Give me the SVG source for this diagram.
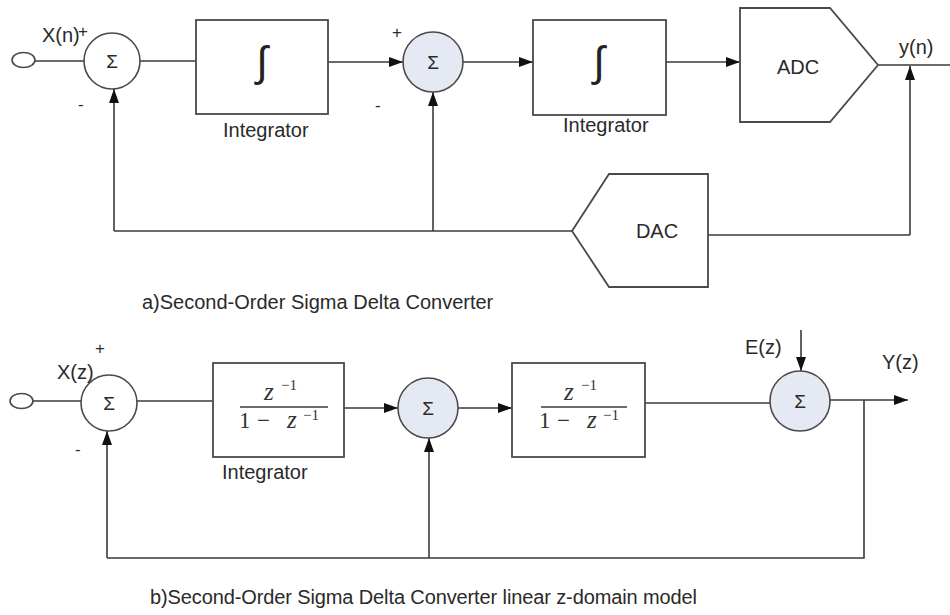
<svg xmlns="http://www.w3.org/2000/svg" width="950" height="615" viewBox="0 0 950 615">
  <style>
    .wire { fill: none; stroke: #3a3a3a; stroke-width: 1.6; }
    .arrow { fill: none; stroke: #3a3a3a; stroke-width: 1.6; marker-end: url(#head); }
    .box { fill: #ffffff; stroke: #4a4a4a; stroke-width: 1.8; }
    .sum { fill: #ffffff; stroke: #4a4a4a; stroke-width: 1.6; }
    .sumb { fill: #e4e9f4; stroke: #4a4a4a; stroke-width: 1.6; }
    .lbl { font-family: "Liberation Sans", Arial, sans-serif; font-size: 20px; fill: #2a2a2a; }
    .sig { font-family: "Liberation Sans", Arial, sans-serif; font-size: 19px; fill: #2a2a2a; text-anchor: middle; }
    .sgn { font-family: "Liberation Sans", Arial, sans-serif; font-size: 17px; fill: #2a2a2a; }
    .int { font-family: "Liberation Sans", Arial, sans-serif; font-size: 42px; fill: #222; text-anchor: middle; }
    .mz { font-family: "Liberation Serif", "Times New Roman", serif; font-style: italic; font-size: 25px; fill: #333; }
    .mn { font-family: "Liberation Serif", "Times New Roman", serif; font-size: 23px; fill: #333; }
    .ms { font-family: "Liberation Serif", "Times New Roman", serif; font-size: 15px; fill: #333; }
  </style>
  <defs>
    <marker id="head" markerUnits="userSpaceOnUse" markerWidth="15" markerHeight="11" refX="14" refY="5" orient="auto">
      <path d="M0,0 L14,5 L0,10 z" fill="#111"/>
    </marker>
  </defs>
  <rect width="950" height="615" fill="#ffffff"/>

  <!-- connectors -->
  <g id="connectors">
    <!-- (a) time-domain loop -->
    <line class="wire" x1="35" y1="61" x2="84" y2="61"/>
    <line class="wire" x1="140" y1="61" x2="196" y2="61"/>
    <line class="arrow" x1="328" y1="62" x2="403" y2="62"/>
    <line class="arrow" x1="463" y1="62" x2="533" y2="62"/>
    <line class="arrow" x1="666" y1="62" x2="740" y2="62"/>
    <line class="wire" x1="878" y1="65" x2="950" y2="65"/>
    <line class="arrow" x1="910" y1="235" x2="910" y2="66"/>
    <line class="wire" x1="910" y1="235" x2="708" y2="235"/>
    <line class="wire" x1="572" y1="231" x2="114" y2="231"/>
    <line class="arrow" x1="114" y1="231" x2="114" y2="89"/>
    <line class="arrow" x1="433" y1="231" x2="433" y2="92"/>

    <!-- (b) z-domain model -->
    <line class="wire" x1="33" y1="401" x2="81" y2="401"/>
    <line class="wire" x1="137" y1="401" x2="213" y2="401"/>
    <line class="arrow" x1="344" y1="408" x2="398" y2="408"/>
    <line class="arrow" x1="458" y1="408" x2="512" y2="408"/>
    <line class="wire" x1="645" y1="403" x2="770" y2="403"/>
    <line class="arrow" x1="801" y1="330" x2="801" y2="371"/>
    <line class="arrow" x1="830" y1="400" x2="908" y2="400"/>
    <polyline class="wire" points="864,400 864,558 107,558"/>
    <line class="arrow" x1="107" y1="558" x2="107" y2="431"/>
    <line class="arrow" x1="429" y1="558" x2="429" y2="438"/>
  </g>

  <!-- (a) nodes -->
  <g id="a-input"><ellipse class="sum" cx="23.5" cy="60" rx="11.5" ry="7.5"/></g>
  <g id="a-sum1">
    <circle class="sum" cx="112" cy="61" r="28"/>
    <text class="sig" x="112" y="68">Σ</text>
  </g>
  <g id="a-int1">
    <rect class="box" x="196" y="20" width="132" height="94"/>
    <text class="int" x="262" y="76">∫</text>
  </g>
  <g id="a-sum2">
    <circle class="sumb" cx="433" cy="62" r="30"/>
    <text class="sig" x="433" y="69">Σ</text>
  </g>
  <g id="a-int2">
    <rect class="box" x="533" y="20" width="133" height="95"/>
    <text class="int" x="599" y="76">∫</text>
  </g>
  <g id="a-adc">
    <polygon class="box" points="740,8 830,8 878,65 830,122 740,122"/>
    <text class="lbl" x="798" y="74" text-anchor="middle" font-size="21">ADC</text>
  </g>
  <g id="a-dac">
    <polygon class="box" points="708,174 609,174 572,231 609,287 708,287"/>
    <text class="lbl" x="657" y="238" text-anchor="middle" font-size="21">DAC</text>
  </g>

  <!-- (a) labels -->
  <g id="a-labels">
    <text class="lbl" x="42" y="42">X(n)</text>
    <text class="sgn" x="78" y="37">+</text>
    <text class="sgn" x="78" y="110">-</text>
    <text class="sgn" x="392" y="38">+</text>
    <text class="sgn" x="375" y="111">-</text>
    <text class="lbl" x="223" y="137">Integrator</text>
    <text class="lbl" x="563" y="132">Integrator</text>
    <text class="lbl" x="899" y="54">y(n)</text>
    <text class="lbl" x="142" y="309">a)Second-Order Sigma Delta Converter</text>
  </g>

  <!-- (b) nodes -->
  <g id="b-input"><ellipse class="sum" cx="21.5" cy="401" rx="11.5" ry="7.5"/></g>
  <g id="b-sum1">
    <circle class="sum" cx="109" cy="403" r="28"/>
    <text class="sig" x="109" y="410">Σ</text>
  </g>
  <g id="b-int1">
    <rect class="box" x="213" y="363" width="131" height="94"/>
    <text class="mz" x="264" y="400">z</text>
    <text class="ms" x="281" y="390">−1</text>
    <line class="wire" x1="240" y1="407" x2="328" y2="407" stroke-width="1.3"/>
    <text class="mn" x="239" y="428">1</text>
    <text class="mn" x="257" y="428">−</text>
    <text class="mz" x="287" y="428">z</text>
    <text class="ms" x="303" y="420">−1</text>
  </g>
  <g id="b-sum2">
    <circle class="sumb" cx="428" cy="408" r="30"/>
    <text class="sig" x="428" y="415">Σ</text>
  </g>
  <g id="b-int2">
    <rect class="box" x="512" y="363" width="133" height="94"/>
    <text class="mz" x="564" y="400">z</text>
    <text class="ms" x="581" y="390">−1</text>
    <line class="wire" x1="541" y1="407" x2="627" y2="407" stroke-width="1.3"/>
    <text class="mn" x="539" y="428">1</text>
    <text class="mn" x="557" y="428">−</text>
    <text class="mz" x="587" y="428">z</text>
    <text class="ms" x="603" y="420">−1</text>
  </g>
  <g id="b-sum3">
    <circle class="sumb" cx="800" cy="401" r="30"/>
    <text class="sig" x="800" y="408">Σ</text>
  </g>

  <!-- (b) labels -->
  <g id="b-labels">
    <text class="lbl" x="57" y="379">X(z)</text>
    <text class="sgn" x="95" y="354">+</text>
    <text class="sgn" x="75" y="455">-</text>
    <text class="lbl" x="222" y="479">Integrator</text>
    <text class="lbl" x="745" y="354">E(z)</text>
    <text class="lbl" x="882" y="369">Y(z)</text>
    <text class="lbl" x="150" y="604" textLength="547">b)Second-Order Sigma Delta Converter linear z-domain model</text>
  </g>
</svg>
